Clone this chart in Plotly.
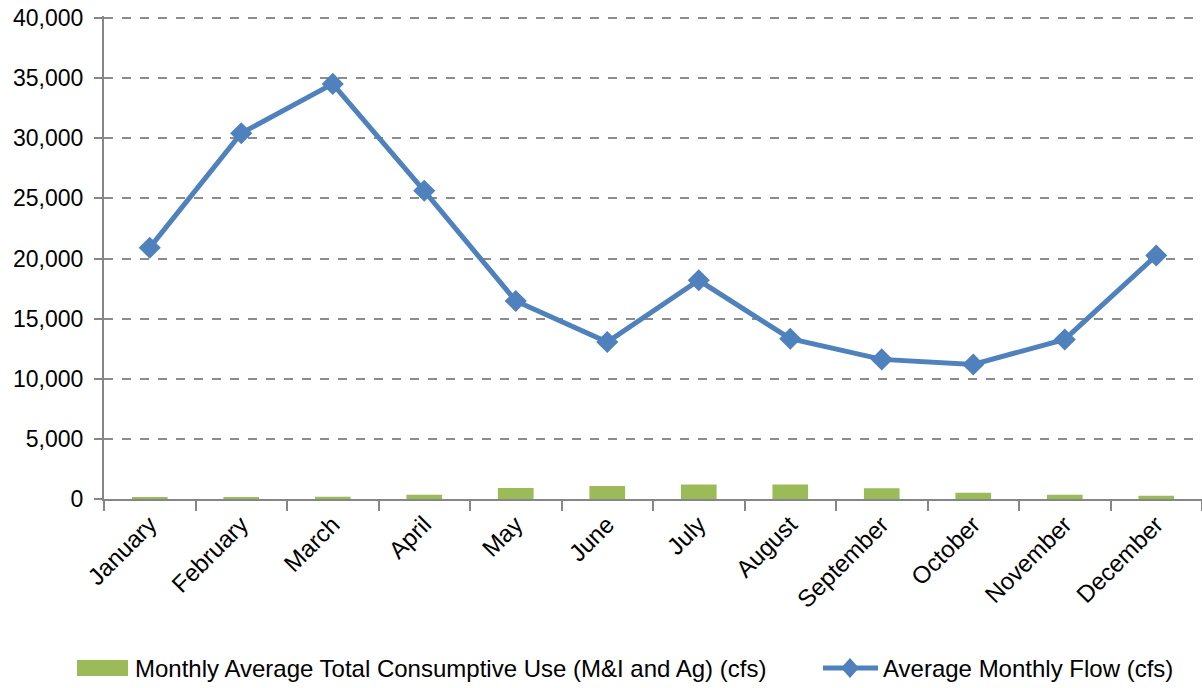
import plotly.graph_objects as go

months = ["January", "February", "March", "April", "May", "June", "July",
          "August", "September", "October", "November", "December"]
consumptive_use = [110, 85, 195, 360, 920, 1080, 1200, 1200, 890, 530, 360, 280]
avg_flow = [20900, 30420, 34520, 25630, 16470, 13050, 18190, 13330, 11610, 11190, 13270, 20250]

bar_name = "Monthly Average Total Consumptive Use (M&I and Ag) (cfs)"
line_name = "Average Monthly Flow (cfs)"

FONT = "Liberation Sans, Arial, sans-serif"
W, H = 1202, 688
ML, MR, MT, MB = 104, 0, 16, 189
PW, PH = W - ML - MR, H - MT - MB
Y_TOP = 40000 * PH / (PH - 2)  # leave room so the 40,000 gridline is drawn

def px(x):
    return (x - ML) / PW

def py(y):
    return (H - MB - y) / PH

GREEN = "#9BBB59"
BLUE = "#4F81BD"

fig = go.Figure()
fig.add_trace(go.Bar(
    x=months, y=consumptive_use, name=bar_name,
    marker=dict(color=GREEN, line=dict(width=0)), width=0.39,
))
fig.add_trace(go.Scatter(
    x=months, y=avg_flow, mode="lines+markers", name=line_name,
    line=dict(color=BLUE, width=5),
    marker=dict(symbol="diamond", size=17, color=BLUE),
))

# custom legend
ly = 668
shapes = [
    dict(type="rect", xref="paper", yref="paper", x0=px(77), x1=px(128),
         y0=py(676), y1=py(660), fillcolor=GREEN, line=dict(width=0), layer="above"),
    dict(type="line", xref="paper", yref="paper", x0=px(823), x1=px(878),
         y0=py(ly), y1=py(ly), line=dict(color=BLUE, width=5), layer="above"),
]
cx = 850
d = 9
shapes.append(dict(
    type="path", xref="paper", yref="paper", layer="above",
    path=f"M {px(cx)} {py(ly - d - 1)} L {px(cx + d)} {py(ly)} L {px(cx)} {py(ly + d + 1)} L {px(cx - d)} {py(ly)} Z",
    fillcolor=BLUE, line=dict(width=0),
))
annotations = [
    dict(text=bar_name, xref="paper", yref="paper", x=px(133), y=py(ly),
         xanchor="left", yanchor="middle", showarrow=False,
         font=dict(family=FONT, size=24, color="#000")),
    dict(text=line_name, xref="paper", yref="paper", x=px(881), y=py(ly),
         xanchor="left", yanchor="middle", showarrow=False,
         font=dict(family=FONT, size=24, color="#000")),
]

fig.update_layout(
    width=W, height=H,
    margin=dict(l=ML, r=MR, t=MT, b=MB, autoexpand=False),
    paper_bgcolor="white", plot_bgcolor="white",
    font=dict(family=FONT, size=24, color="#000000"),
    showlegend=False,
    shapes=shapes, annotations=annotations,
)
fig.update_xaxes(
    type="category", tickangle=-45, showline=True, linecolor="#868686", linewidth=2,
    ticks="outside", tickson="boundaries", ticklen=10, tickwidth=2, tickcolor="#868686",
    showgrid=False, tickfont=dict(family=FONT, size=24), automargin=False,
    range=[-0.5, 11.5],
)
fig.update_yaxes(
    range=[0, Y_TOP], tick0=0, dtick=5000, tickformat=",", showline=True,
    linecolor="#868686", linewidth=2, ticks="outside", ticklen=8, tickwidth=2,
    tickcolor="#868686", showgrid=True, gridcolor="#8C8C8C", gridwidth=2,
    griddash="dash", zeroline=False, tickfont=dict(family=FONT, size=23),
    ticklabelstandoff=6, automargin=False, ticklabeloverflow="allow",
)

fig.write_html(
    "out.html",
    config={"displayModeBar": False},
    post_script="document.body.style.margin='0';document.body.style.overflow='hidden';",
)
